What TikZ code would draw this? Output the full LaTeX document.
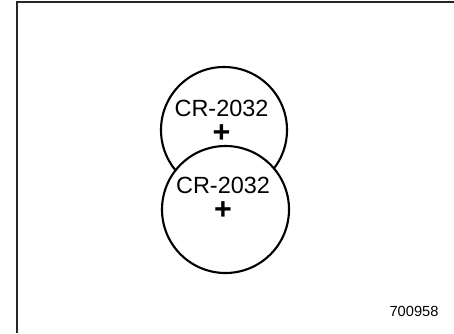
\documentclass[tikz,border=0pt]{standalone}
\usepackage{fontspec}
\setmainfont{Liberation Sans}
\usetikzlibrary{positioning}

\newcommand{\plusmark}{{\fontsize{26}{26}\selectfont\bfseries +}}

\begin{document}
\begin{tikzpicture}[x=0.03cm, y=-0.03cm,
  cell/.style={draw, circle, line width=1.8pt, minimum size=3.78cm, inner sep=0pt, fill=white},
  cellname/.style={font=\fontsize{20}{24}\selectfont, inner sep=0pt, align=center, anchor=base},
  code/.style={font=\fontsize{12.5}{15}\selectfont, inner sep=0pt}
]
  \useasboundingbox (0,0) rectangle (454,333);
  \draw[line width=1.3pt, black!85] (17,333) -- (17,2) -- (454,2);

  % upper cell
  \node[cell] (upper) at (224,130) {};
  \node[cellname] (uname) at (221.5,142.5) {CR-2032\\[-1.6pt]\plusmark};

  % lower cell, drawn over the upper one
  \node[cell, minimum size=3.81cm] (lower) at (225.5,209.5) {};
  \node[cellname] (lname) at (223,219.7) {CR-2032\\[-1.6pt]\plusmark};

  \node[code] (num) at (414,311) {700958};
\end{tikzpicture}
\end{document}
